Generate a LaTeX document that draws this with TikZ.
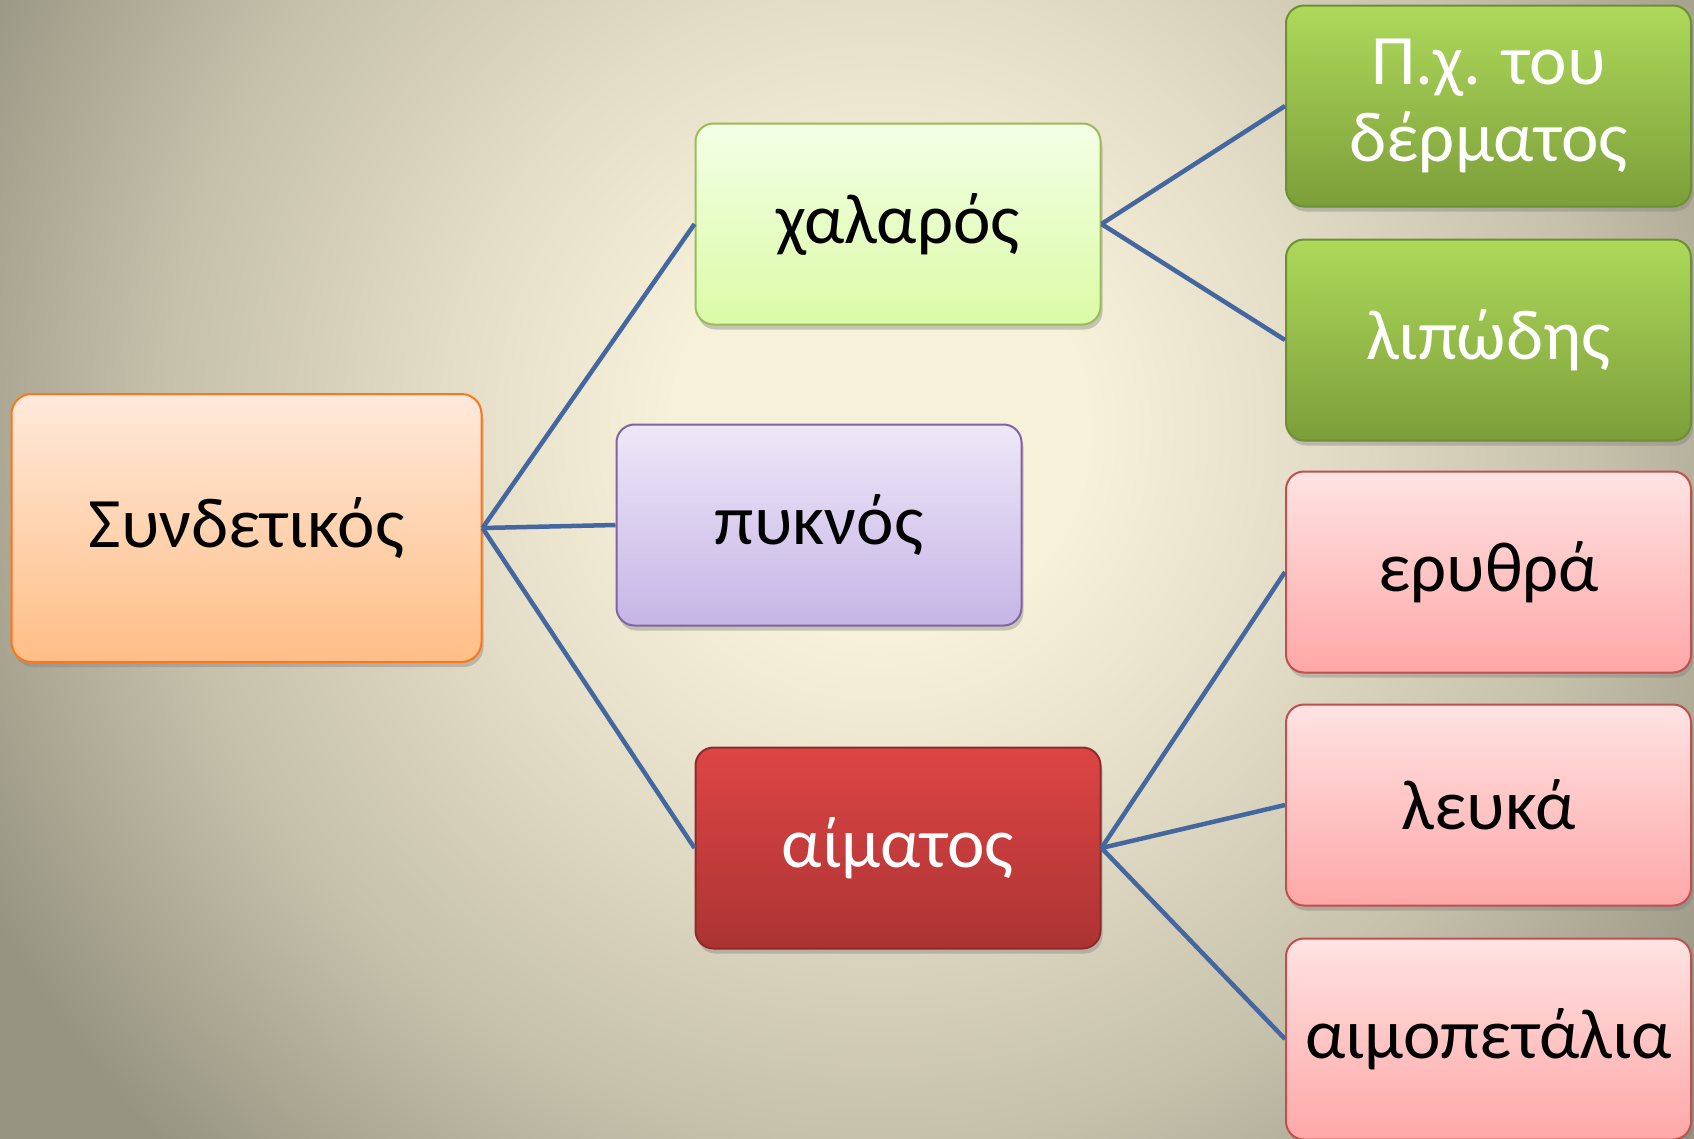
\documentclass[tikz,border=0pt]{standalone}
\usepackage{fontspec}
\setmainfont{Carlito}
\usetikzlibrary{shadows}
\usepackage{xcolor}
\definecolor{bgcenter}{HTML}{F8F1DA}
\definecolor{bgmid}{HTML}{E3DCC6}
\definecolor{bgouter}{HTML}{C6C1AB}
\definecolor{bgedge}{HTML}{979482}
\definecolor{linkblue}{HTML}{43679E}
\pgfdeclareradialshading{backdrop}{\pgfpoint{0bp}{0bp}}{color(0bp)=(bgcenter); color(4.5bp)=(bgcenter); color(9.5bp)=(bgmid); color(15.5bp)=(bgouter); color(22bp)=(bgedge); color(25bp)=(bgedge); color(50bp)=(bgedge)}

\begin{document}
\begin{tikzpicture}[
    x=1pt, y=-1pt,
    box/.style={rounded corners=18pt, minimum width=405pt, minimum height=201pt, inner sep=0pt,
        line width=2pt, align=center, font=\fontsize{71}{77}\selectfont,
        drop shadow={opacity=0.4, shadow xshift=2pt, shadow yshift=-5pt}},
    peach/.style={box, draw=orange!80!red!90!white, top color=peachtop, bottom color=peachbot},
    mint/.style={box, draw=mintline, top color=minttop, bottom color=mintbot},
    lilac/.style={box, draw=lilacline, top color=lilactop, bottom color=lilacbot},
    blood/.style={box, draw=bloodline, top color=bloodtop, bottom color=bloodbot, text=white},
    leaf/.style={box, draw=leafline, top color=leaftop, bottom color=leafbot, text=white},
    rose/.style={box, draw=roseline, top color=rosetop, bottom color=rosebot},
    link/.style={draw=linkblue, line width=4.5pt}
]
	\definecolor{peachtop}{HTML}{FFE9DB}
	\definecolor{peachbot}{HTML}{FFBE86}
	\definecolor{minttop}{HTML}{F3FFE6}
	\definecolor{mintbot}{HTML}{DBFBA6}
	\definecolor{mintline}{HTML}{9BBB59}
	\definecolor{lilactop}{HTML}{EEE7F8}
	\definecolor{lilacbot}{HTML}{C6B5E6}
	\definecolor{lilacline}{HTML}{8064A2}
	\definecolor{bloodtop}{HTML}{DE4545}
	\definecolor{bloodbot}{HTML}{AC3333}
	\definecolor{bloodline}{HTML}{8E2B2B}
	\definecolor{leaftop}{HTML}{AED95A}
	\definecolor{leafbot}{HTML}{7C9E3A}
	\definecolor{leafline}{HTML}{6F8F34}
	\definecolor{rosetop}{HTML}{FFE3E3}
	\definecolor{rosebot}{HTML}{FFA7A7}
	\definecolor{roseline}{HTML}{C0504D}

	\useasboundingbox (0,0) rectangle (1694,1138);
	\clip (0,0) rectangle (1694,1138);
	\shade[shading=backdrop] (880,430) circle (1150pt);

	% tree
	\node[peach, minimum width=470pt, minimum height=268pt, rounded corners=20pt] (synd) at (246.5,528) {Συνδετικός};
	\node[mint] (chal) at (898,224) {χαλαρός};
	\node[lilac] (pykn) at (819,525) {πυκνός};
	\node[blood] (aim) at (898,848) {αίματος};

	\node[leaf] (derm) at (1488.5,106) {Π.χ. του\\δέρματος};
	\node[leaf] (lip) at (1488.5,340) {λιπώδης};
	\node[rose] (eryth) at (1488.5,572) {ερυθρά};
	\node[rose] (leuk) at (1488.5,805) {λευκά};
	\node[rose] (aimop) at (1488.5,1039) {αιμοπετάλια};

	\foreach \t in {chal, pykn, aim}
		\draw[link] (synd.east) -- (\t.west);
	\foreach \t in {derm, lip}
		\draw[link] (chal.east) -- (\t.west);
	\foreach \t in {eryth, leuk, aimop}
		\draw[link] (aim.east) -- (\t.west);
\end{tikzpicture}
\end{document}
